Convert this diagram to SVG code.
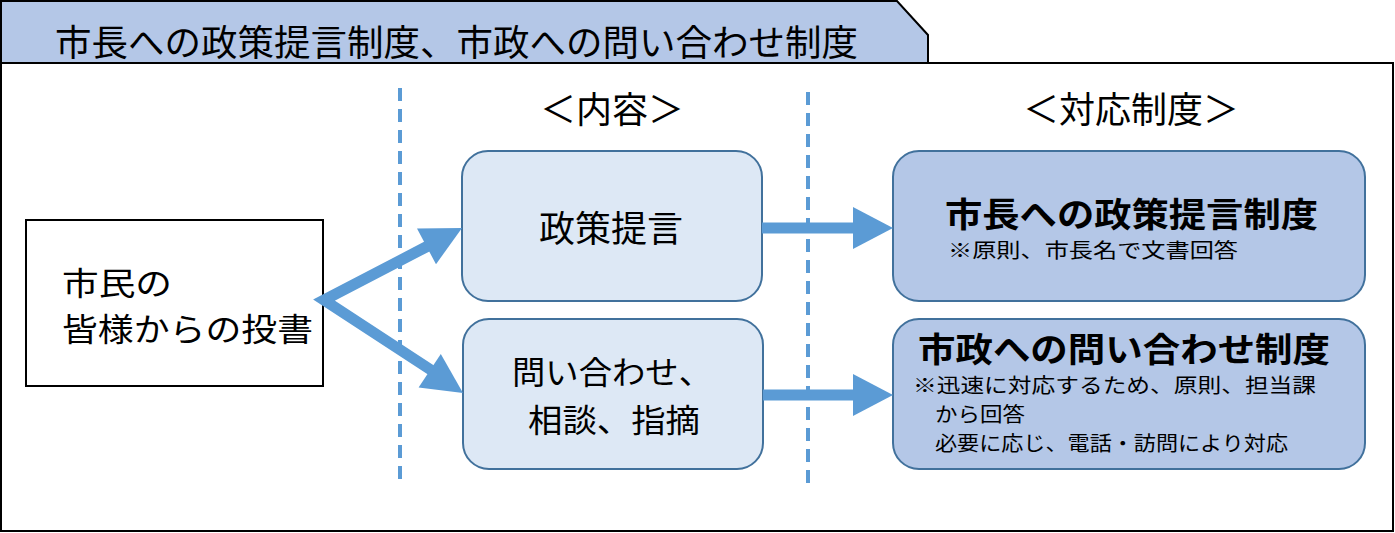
<svg xmlns="http://www.w3.org/2000/svg" width="1395" height="533" viewBox="0 0 1395 533">
<style>
text{font-family:"Noto Sans CJK JP","Noto Sans",sans-serif;fill:#000}
.big{font-size:36px}
.two{font-size:32px}
.bold{font-size:34px;font-weight:bold}
.small{font-size:20px}
.mid{fill:#dde8f5;stroke:#41719c;stroke-width:2}
.right{fill:#b4c7e7;stroke:#41719c;stroke-width:2}
.dash{stroke:#5b9bd5;stroke-width:4;stroke-dasharray:13 8;fill:none}
.shaft{stroke:#5b9bd5;stroke-width:11;fill:none;stroke-linejoin:miter}
.head{fill:#5b9bd5}
</style>
<rect x="0" y="0" width="1395" height="533" fill="#fff"/>
<g id="frame">
<polygon points="1,1 897,1 928,35 928,63 1,63" fill="#b4c7e7" stroke="#000" stroke-width="2"/>
<rect x="1" y="63" width="1392" height="468" fill="#fff" stroke="#000" stroke-width="2"/>
<text x="55" y="56" font-size="36" textLength="803" lengthAdjust="spacingAndGlyphs">市長への政策提言制度、市政への問い合わせ制度</text>
</g>
<g id="dividers">
<line class="dash" x1="400" y1="88" x2="400" y2="482"/>
<line class="dash" x1="808" y1="92" x2="808" y2="486"/>
</g>
<g id="headers">
<text class="big" x="612" y="123" text-anchor="middle">＜内容＞</text>
<text class="big" x="1131" y="123" text-anchor="middle">＜対応制度＞</text>
</g>
<g id="citizen">
<rect x="26" y="220" width="297" height="166" fill="#fff" stroke="#000" stroke-width="2"/>
<text class="two" x="62" y="295" textLength="110" lengthAdjust="spacingAndGlyphs">市民の</text>
<text class="two" x="62" y="341" textLength="251" lengthAdjust="spacingAndGlyphs">皆様からの投書</text>
</g>
<g id="policy">
<rect class="mid" x="462" y="151" width="300" height="150" rx="26"/>
<text class="big" x="611" y="242" text-anchor="middle">政策提言</text>
</g>
<g id="inquiry">
<rect class="mid" x="463" y="319" width="300" height="150" rx="26"/>
<text class="two" x="512" y="384" textLength="200" lengthAdjust="spacingAndGlyphs">問い合わせ、</text>
<text class="two" x="528" y="432" textLength="172" lengthAdjust="spacingAndGlyphs">相談、指摘</text>
</g>
<g id="mayorSystem">
<rect class="right" x="893" y="151" width="472" height="150" rx="26"/>
<text class="bold" x="945" y="227" textLength="373" lengthAdjust="spacingAndGlyphs">市長への政策提言制度</text>
<text class="small" x="948" y="258" textLength="290" lengthAdjust="spacingAndGlyphs">※原則、市長名で文書回答</text>
</g>
<g id="inquirySystem">
<rect class="right" x="893" y="319" width="472" height="150" rx="26"/>
<text class="bold" x="918" y="362" textLength="412" lengthAdjust="spacingAndGlyphs">市政への問い合わせ制度</text>
<text class="small" x="913" y="393" textLength="403" lengthAdjust="spacingAndGlyphs">※迅速に対応するため、原則、担当課</text>
<text class="small" x="935" y="422" textLength="90" lengthAdjust="spacingAndGlyphs">から回答</text>
<text class="small" x="935" y="451" textLength="353" lengthAdjust="spacingAndGlyphs">必要に応じ、電話・訪問により対応</text>
</g>
<g id="connectors">
<polyline class="shaft" points="428,246 324,300 431,370"/>
<polygon class="head" points="462,228 417,228.6 436,264.2"/>
<polygon class="head" points="463,393 418.6,387.5 440.8,354.1"/>
<line class="shaft" x1="762" y1="228" x2="856" y2="228" stroke-width="12"/>
<polygon class="head" points="853,207 893,228 853,249"/>
<line class="shaft" x1="763" y1="395" x2="856" y2="395" stroke-width="12"/>
<polygon class="head" points="853,374 893,395 853,416"/>
</g>
</svg>
